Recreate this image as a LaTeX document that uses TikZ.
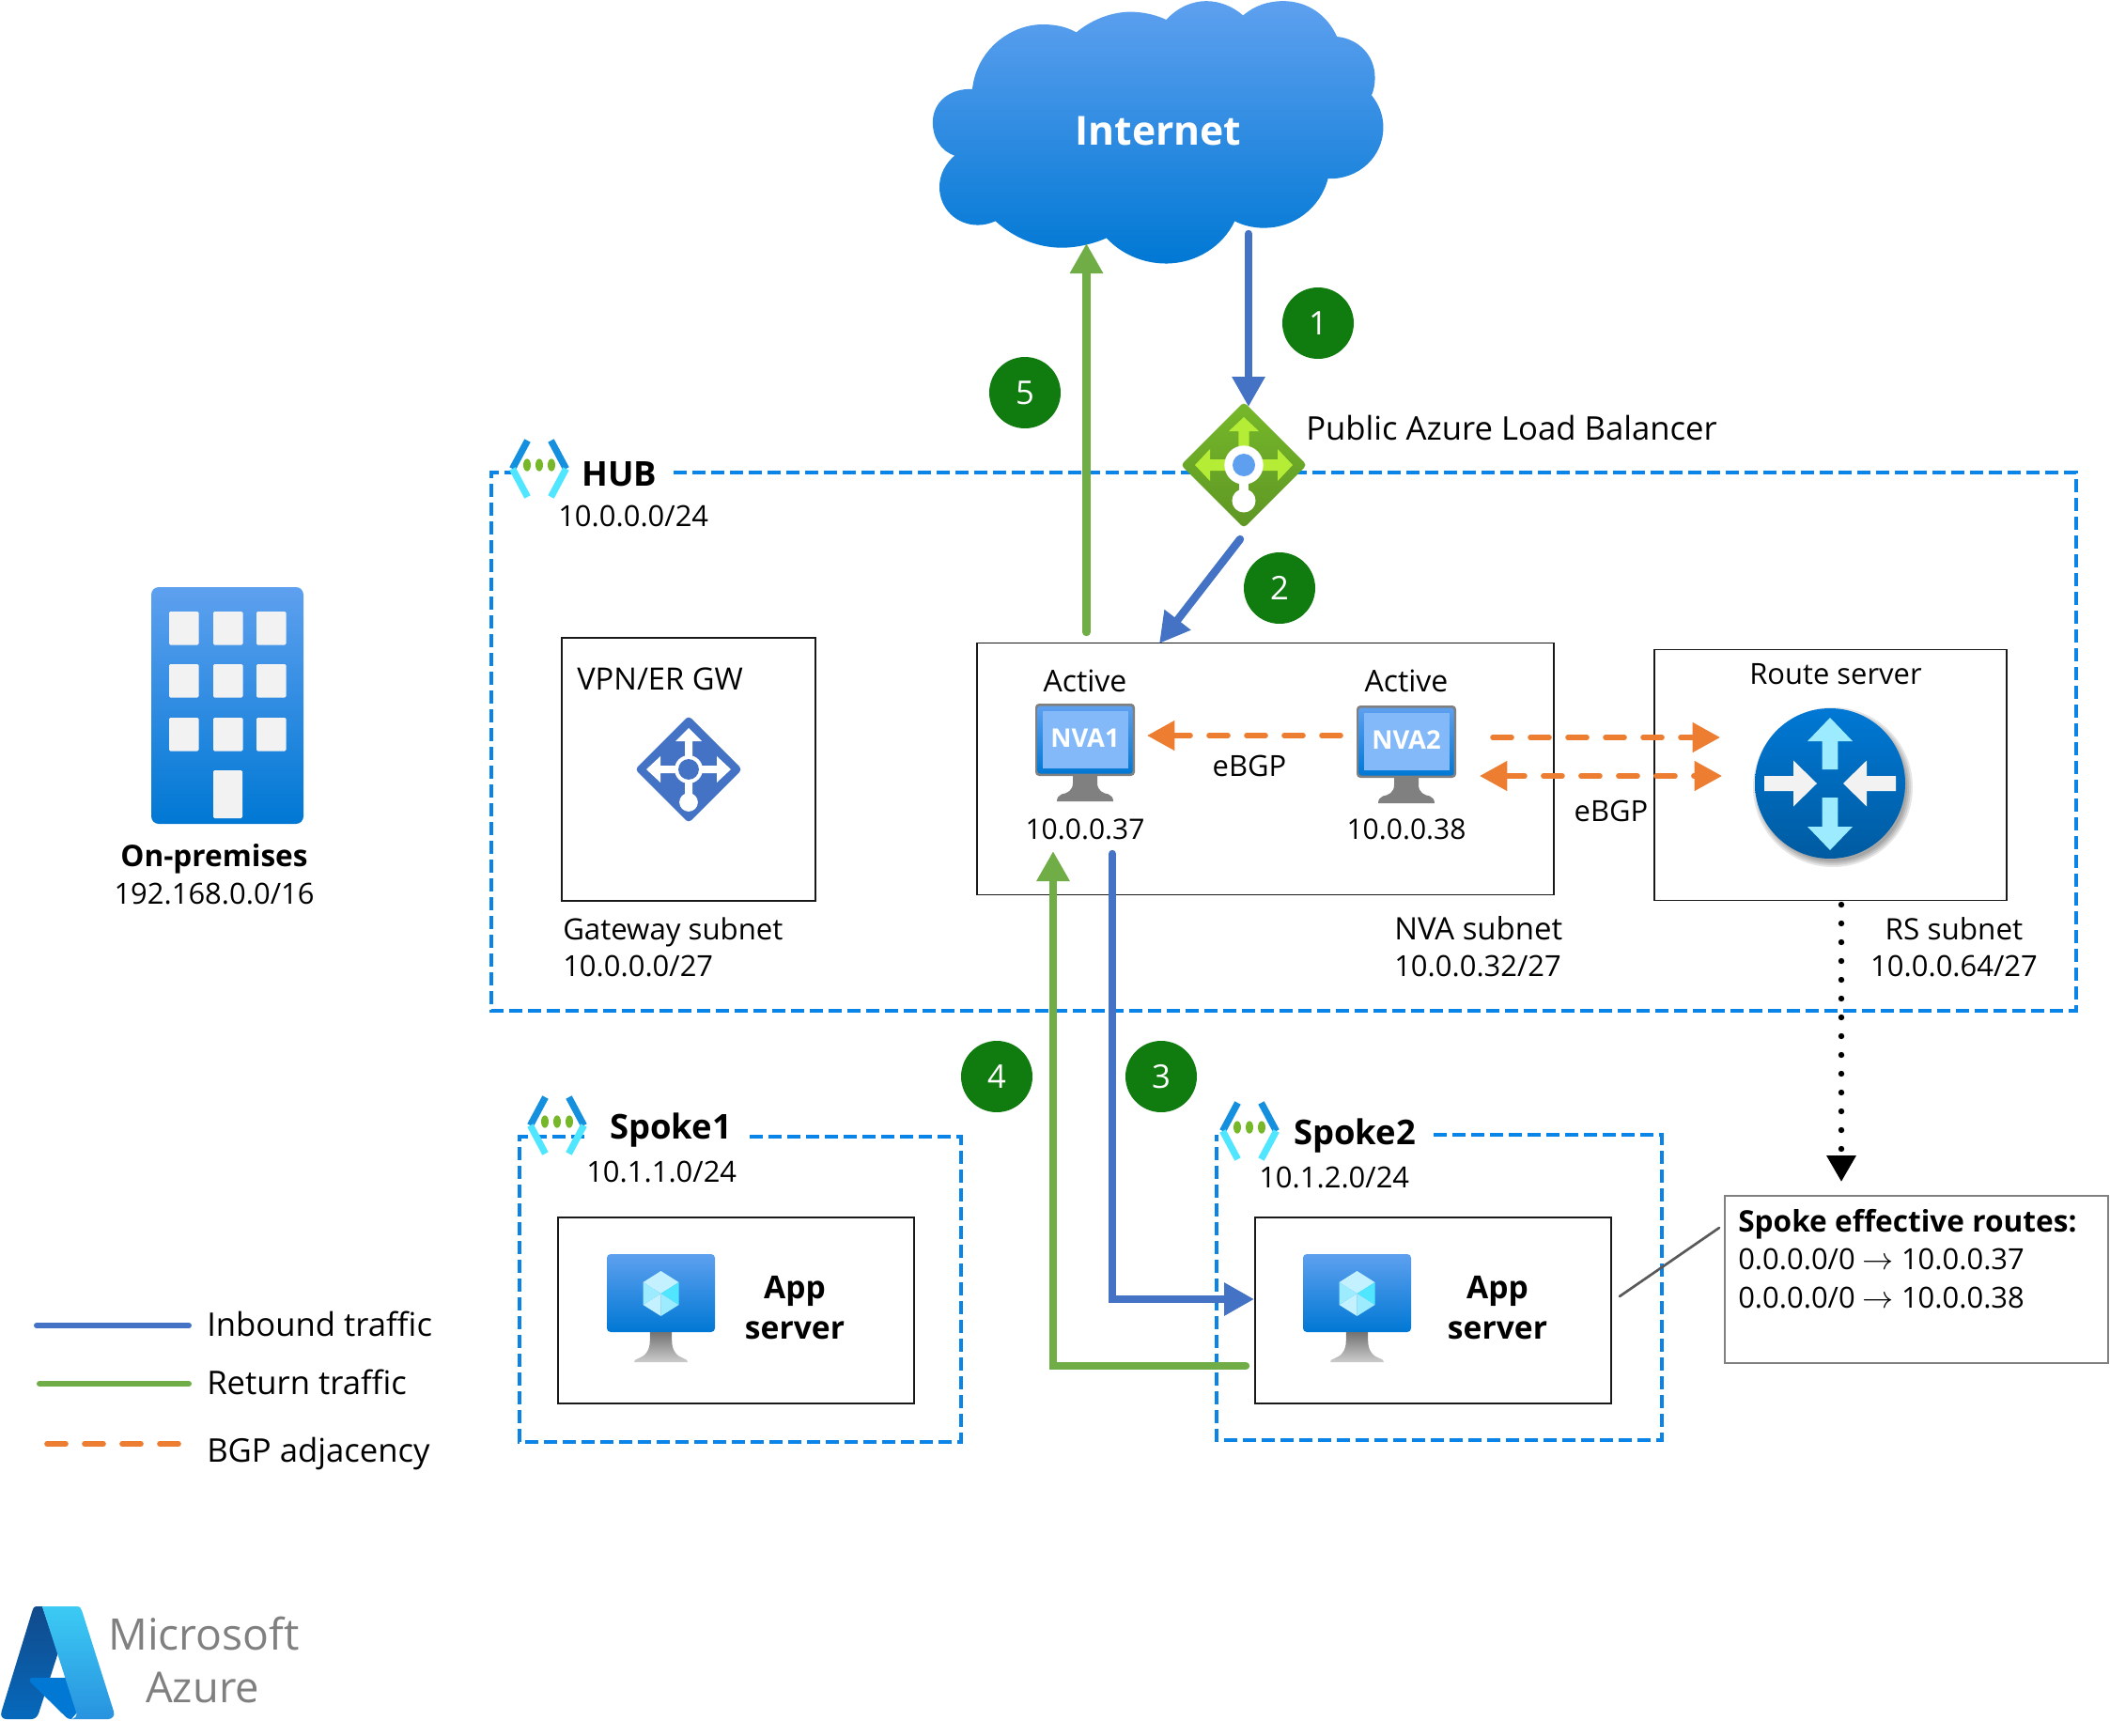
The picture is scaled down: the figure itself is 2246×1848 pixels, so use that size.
\documentclass[tikz,border=0pt]{standalone}
\usepackage{fontspec}
\setmainfont{Open Sans}
\usepackage{xcolor}
\usetikzlibrary{arrows.meta, calc, positioning}

\definecolor{inblue}{HTML}{4472C4}
\definecolor{retgreen}{HTML}{70AD47}
\definecolor{bgporange}{HTML}{ED7D31}
\definecolor{badgegreen}{HTML}{107C10}
\definecolor{vnetblue}{HTML}{0A84E6}
\definecolor{azuretop}{HTML}{5EA0EF}
\definecolor{azurelow}{HTML}{0078D4}
\definecolor{routerlow}{HTML}{005BA1}
\definecolor{cyanlight}{HTML}{9CEBFF}
\definecolor{cyanpale}{HTML}{C3F1FF}
\definecolor{cyanfull}{HTML}{50E6FF}
\definecolor{chevronblue}{HTML}{1490DF}
\definecolor{tilegrey}{HTML}{F2F2F2}
\definecolor{limearrow}{HTML}{B4EC36}
\definecolor{lbtop}{HTML}{76B82A}
\definecolor{lblow}{HTML}{5E9624}
\definecolor{screenpale}{HTML}{83B9F9}
\definecolor{logonavy}{HTML}{114A8B}
\definecolor{logolow}{HTML}{0669BC}
\definecolor{logosky}{HTML}{3CCBF4}
\definecolor{logomid}{HTML}{2892DF}

\newcommand{\bodysize}{\fontsize{23.2}{28}\selectfont}
\newcommand{\widesize}{\fontsize{26}{31}\selectfont}
\newcommand{\titlesize}{\bfseries\fontsize{27.3}{32}\selectfont}
\newcommand{\boldsize}{\bfseries\fontsize{23.7}{32}\selectfont}
\newcommand{\appsize}{\bfseries\fontsize{25.2}{32}\selectfont}

\tikzset{
    plainlabel/.style={anchor=base west, inner sep=0pt, font=\bodysize},
    midlabel/.style={anchor=base, inner sep=0pt, font=\bodysize},
    titlelabel/.style={anchor=base west, inner sep=0pt, font=\titlesize},
    subnetbox/.style={draw=black!90, line width=1.2pt, inner sep=0pt},
    badge/.style={circle, fill=badgegreen, text=white, inner sep=0pt, minimum size=57pt, font=\fontsize{26}{31}\selectfont},
    vnetline/.style={draw=vnetblue, line width=2.5pt, dash pattern=on 10.5pt off 4.5pt},
    flowtip/.style={line width=6.3pt, line cap=round, -{Triangle[length=24pt,width=25pt]}},
    inflow/.style={flowtip, draw=inblue, color=inblue},
    retflow/.style={flowtip, draw=retgreen, color=retgreen},
    bgpline/.style={draw=bgporange, color=bgporange, line width=4.2pt, line cap=round, dash pattern=on 15pt off 15pt},
    pics/vnetmark/.style={code={
        \draw[line width=5.4pt, color=chevronblue] (-12.5,-30) -- (-28.5,0);
        \draw[line width=5.4pt, color=chevronblue] (12.5,-30) -- (28.5,0);
        \draw[line width=5.4pt, color=cyanfull] (-28.5,0) -- (-12.5,30);
        \draw[line width=5.4pt, color=cyanfull] (28.5,0) -- (12.5,30);
        \foreach \dotx in {-13, 0, 13} {
            \fill[color=lbtop] (\dotx,-4) ellipse [x radius=3pt, y radius=5pt];
        }
    }},
    pics/appscreen/.style={code={
        \shade[top color=azuretop, bottom color=azurelow, rounded corners=3pt] (-57.5,-42) rectangle (57.5,41);
        \shade[top color=black!55, bottom color=black!20]
            (-11.7,41) -- (-11.7,50) .. controls (-11.7,62) and (-18,67) .. (-24,69) .. controls (-27,70) and (-28.5,71) .. (-28.5,73)
            -- (28.5,73) .. controls (28.5,71) and (27,70) .. (24,69) .. controls (18,67) and (11.7,62) .. (11.7,50) -- (11.7,41) -- cycle;
        \fill[color=cyanpale] (0,-24) -- (19,-12) -- (0,0) -- (-19,-12) -- cycle;
        \fill[color=cyanfull] (19,-12) -- (19,12) -- (0,0) -- cycle;
        \fill[color=cyanlight] (19,12) -- (0,24) -- (0,0) -- cycle;
        \fill[color=cyanpale] (-19,12) -- (0,24) -- (0,0) -- cycle;
        \fill[color=cyanlight] (-19,-12) -- (-19,12) -- (0,0) -- cycle;
    }},
    pics/nvascreen/.style={code={
        \fill[color=black!50, rounded corners=3pt] (-53,-38.5) rectangle (53,38.5);
        \shade[top color=azuretop, bottom color=azurelow, rounded corners=2pt] (-50.5,-36) rectangle (50.5,36);
        \fill[color=screenpale] (-45.5,-31) rectangle (45.5,30);
        \fill[color=black!50]
            (-13,38.5) -- (-13,46) .. controls (-13,54) and (-19,57) .. (-25,58) .. controls (-28,59) and (-30,62) .. (-30,65.5)
            -- (30,65.5) .. controls (30,62) and (28,59) .. (25,58) .. controls (19,57) and (13,54) .. (13,46) -- (13,38.5) -- cycle;
    }},
    pics/lbmark/.style={code={
        \shade[top color=lbtop, bottom color=lblow, rounded corners=3pt] (0,-67) -- (67,0) -- (0,67) -- (-67,0) -- cycle;
        \fill[color=limearrow] (0,-51) -- (16,-36) -- (5.7,-36) -- (5.7,0) -- (-5.7,0) -- (-5.7,-36) -- (-16,-36) -- cycle;
        \fill[color=limearrow] (-52,0) -- (-36,-17) -- (-36,-6) -- (0,-6) -- (0,6) -- (-36,6) -- (-36,17) -- cycle;
        \fill[color=limearrow] (52,0) -- (36,-17) -- (36,-6) -- (0,-6) -- (0,6) -- (36,6) -- (36,17) -- cycle;
        \fill[color=white] (-5,0) rectangle (5,38);
        \fill[color=white] (0,0) circle [radius=15.5pt];
        \fill[color=azuretop] (0,0) circle [radius=9pt];
        \fill[color=white] (0,38) circle [radius=9.4pt];
    }},
    pics/gwmark/.style={code={
        \fill[color=inblue, rounded corners=3pt] (0,-57) -- (57,0) -- (0,57) -- (-57,0) -- cycle;
        \fill[color=white] (0,-44) -- (14,-30) -- (4,-30) -- (4,35) -- (-4,35) -- (-4,-30) -- (-14,-30) -- cycle;
        \fill[color=white] (-45,0) -- (-30,-14) -- (-30,-4) -- (30,-4) -- (30,-14) -- (45,0) -- (30,14) -- (30,4) -- (-30,4) -- (-30,14) -- cycle;
        \fill[color=white] (0,0) circle [radius=11.2pt];
        \fill[color=inblue] (0,0) circle [radius=8.2pt];
        \fill[color=white] (0,35) circle [radius=7.4pt];
    }},
    pics/routermark/.style={code={
        \foreach \shadowr in {85, 83, 81, 79} {
            \fill[color=black, opacity=0.1] (3,4) circle [radius=\shadowr*0.75pt];
        }
        \shade[top color=azurelow, bottom color=routerlow] (0,0) circle [radius=60pt];
        \fill[color=cyanlight] (0,-70) -- (24,-45) -- (8.3,-45) -- (8.3,-15) -- (-8.3,-15) -- (-8.3,-45) -- (-24,-45) -- cycle;
        \fill[color=cyanlight] (0,71) -- (24,46) -- (8.3,46) -- (8.3,15) -- (-8.3,15) -- (-8.3,46) -- (-24,46) -- cycle;
        \fill[color=tilegrey] (-14,0) -- (-39,-24.5) -- (-39,-8) -- (-70,-8) -- (-70,8) -- (-39,8) -- (-39,24.5) -- cycle;
        \fill[color=tilegrey] (14,0) -- (39,-24.5) -- (39,-8) -- (70,-8) -- (70,8) -- (39,8) -- (39,24.5) -- cycle;
    }}
}

\begin{document}
\begin{tikzpicture}[x=0.75pt, y=-0.75pt]
    \useasboundingbox (0, 0) rectangle (2246, 1848);

    % cloud
    \begin{scope}[shift={(950, 0)}, xscale=1/2.8, yscale=1/2.613]
        \shade[top color=azuretop, bottom color=azurelow]
        (238, 248) .. controls (250, 140) and (350, 68) .. (448, 68) .. controls (495, 68) and (525, 78) .. (548, 90)
        .. controls (600, 50) and (660, 33) .. (710, 33) .. controls (750, 33) and (790, 43) .. (816, 55)
        .. controls (850, 20) and (895, 3) .. (935, 3) .. controls (975, 3) and (1015, 18) .. (1045, 43)
        .. controls (1080, 15) and (1120, 3) .. (1165, 3) .. controls (1235, 3) and (1295, 40) .. (1325, 102)
        .. controls (1390, 108) and (1438, 155) .. (1438, 215) .. controls (1438, 235) and (1435, 250) .. (1428, 265)
        .. controls (1450, 290) and (1463, 320) .. (1463, 355) .. controls (1463, 435) and (1390, 500) .. (1298, 497)
        .. controls (1275, 580) and (1195, 634) .. (1108, 634) .. controls (1075, 634) and (1045, 627) .. (1020, 615)
        .. controls (985, 685) and (905, 733) .. (815, 733) .. controls (745, 733) and (680, 705) .. (638, 662)
        .. controls (595, 680) and (545, 689) .. (505, 689) .. controls (430, 689) and (360, 660) .. (307, 615)
        .. controls (290, 622) and (272, 626) .. (255, 626) .. controls (190, 626) and (140, 580) .. (140, 520)
        .. controls (140, 485) and (158, 455) .. (185, 433) .. controls (145, 420) and (120, 385) .. (120, 340)
        .. controls (120, 285) and (170, 245) .. (238, 248) -- cycle;
    \end{scope}
    \node[anchor=base, inner sep=0pt, text=white, font=\bfseries\fontsize{32}{38}\selectfont] (internet) at (1233, 155) {Internet};

    % vnet outlines
    \draw[vnetline] (717, 503) -- (2210, 503) -- (2210, 1076) -- (523, 1076) -- (523, 503) -- (550, 503);
    \draw[vnetline] (798, 1210) -- (1023, 1210) -- (1023, 1535) -- (553, 1535) -- (553, 1210) -- (626, 1210);
    \draw[vnetline] (1526, 1208) -- (1769, 1208) -- (1769, 1533) -- (1295, 1533) -- (1295, 1208);

    % subnet boxes
    \node[subnetbox, minimum width=202.5pt, minimum height=210pt] (gwbox) at (733, 819) {};
    \node[subnetbox, minimum width=460.5pt, minimum height=201pt] (nvabox) at (1347, 818.5) {};
    \node[subnetbox, minimum width=281.25pt, minimum height=200.25pt] (rsbox) at (1948.5, 825) {};
    \node[subnetbox, minimum width=284.25pt, minimum height=148.5pt] (appbox1) at (783.5, 1395) {};
    \node[subnetbox, minimum width=284.25pt, minimum height=148.5pt] (appbox2) at (1525.5, 1395) {};
    \node[draw=black!50, line width=1.1pt, inner sep=0pt, minimum width=306pt, minimum height=133.5pt] (routesbox) at (2040, 1362) {};

    % icons
    \pic at (574, 499) {vnetmark};
    \pic at (593, 1198) {vnetmark};
    \pic at (1330, 1204) {vnetmark};
    \pic at (1324, 495) {lbmark};
    \pic at (733, 819) {gwmark};
    \pic at (1948, 834) {routermark};
    \pic at (1155, 787.5) {nvascreen};
    \pic at (1497, 789.5) {nvascreen};
    \pic at (703.5, 1377) {appscreen};
    \pic at (1444.5, 1377) {appscreen};

    % building
    \shade[top color=azuretop, bottom color=azurelow, rounded corners=6pt] (161, 625) rectangle (323, 877);
    \foreach \winx in {180, 227, 273} {
        \foreach \winy in {651, 707, 764} {
            \fill[color=tilegrey, rounded corners=1pt] (\winx, \winy) rectangle ++(31.5, 35.5);
        }
    }
    \fill[color=tilegrey, rounded corners=1pt] (227, 820) rectangle (258, 871);

    % azure logo
    \begin{scope}[shift={(0, 1650)}, scale=1/3]
        \shade[top color=logonavy, bottom color=logolow]
        (118, 180) .. controls (108, 180) and (104, 188) .. (103, 195) -- (5, 515) .. controls (0, 530) and (8, 540) .. (20, 540)
        -- (100, 540) .. controls (112, 540) and (120, 532) .. (124, 520) -- (185, 330) -- (135, 180) -- cycle;
        \fill[color=azurelow] (100, 408) -- (210, 408) -- (245, 520) -- (228, 540) .. controls (220, 540) and (215, 538) .. (210, 533)
        -- (100, 425) .. controls (92, 417) and (94, 408) .. (100, 408) -- cycle;
        \shade[top color=logosky, bottom color=logomid]
        (135, 180) -- (245, 180) .. controls (255, 180) and (260, 186) .. (262, 195) -- (363, 515) .. controls (368, 530) and (358, 540) .. (345, 540)
        -- (228, 540) .. controls (240, 538) and (246, 530) .. (244, 520) -- cycle;
    \end{scope}

    % numbered steps
    \node[badge] (stepone) at (1403, 344) {1};
    \node[badge] (steptwo) at (1362, 626) {2};
    \node[badge] (stepthree) at (1236, 1146) {3};
    \node[badge] (stepfour) at (1061, 1146) {4};
    \node[badge] (stepfive) at (1091, 418) {5};

    % flow ends
    \coordinate (cloudout) at (1329, 249);
    \coordinate (lbin) at (1329, 433);
    \coordinate (lbout) at (1320, 574);
    \coordinate (nvain) at (1234, 685);
    \coordinate (nvaout) at (1184, 909);
    \coordinate (appturn) at (1184, 1383);
    \coordinate (appin) at (1335, 1383);
    \coordinate (appout) at (1326, 1454);
    \coordinate (backturn) at (1121, 1454);
    \coordinate (nvaback) at (1121, 906);
    \coordinate (nvaup) at (1156.5, 673);
    \coordinate (cloudin) at (1156.5, 259);

    \draw[inflow] (cloudout) -- (lbin);
    \draw[inflow] (lbout) -- (nvain);
    \draw[inflow, line join=miter] (nvaout) -- (appturn) -- (appin);
    \draw[retflow, line join=miter] (appout) -- (backturn) -- (nvaback);
    \draw[retflow] (nvaup) -- (cloudin);

    % bgp sessions
    \coordinate (nvatwoleft) at (1427, 783);
    \coordinate (nvaonetip) at (1221, 783);
    \coordinate (nvatwoup) at (1589, 785);
    \coordinate (rstipup) at (1831, 785);
    \coordinate (nvatwolow) at (1575, 826);
    \coordinate (rstiplow) at (1833, 826);
    \draw[bgpline, -{Triangle[length=22pt,width=23pt]}] (nvatwoleft) -- (nvaonetip);
    \draw[bgpline, -{Triangle[length=22pt,width=23pt]}] (nvatwoup) -- (rstipup);
    \draw[bgpline, {Triangle[length=22pt,width=23pt]}-{Triangle[length=22pt,width=23pt]}] (nvatwolow) -- (rstiplow);

    % route feed
    \coordinate (rsbottom) at (1960, 963);
    \coordinate (routestip) at (1960, 1258);
    \draw[line width=4.8pt, line cap=round, dash pattern=on 0pt off 15pt, -{Triangle[length=21pt,width=22.5pt]}] (rsbottom) -- (routestip);
    \coordinate (calloutapp) at (1724, 1380);
    \coordinate (calloutroutes) at (1830, 1307);
    \draw[color=black!65, line width=2pt, line cap=round] (calloutapp) -- (calloutroutes);

    % labels
    \node[titlelabel] (hubname) at (619, 517) {HUB};
    \node[plainlabel] (hubcidr) at (594, 560) {10.0.0.0/24};
    \node[titlelabel] (spokeonename) at (649, 1212) {Spoke1};
    \node[plainlabel] (spokeonecidr) at (624, 1258) {10.1.1.0/24};
    \node[titlelabel] (spoketwoname) at (1377, 1218) {Spoke2};
    \node[plainlabel] (spoketwocidr) at (1340, 1264) {10.1.2.0/24};
    \node[plainlabel, font=\widesize] (lbname) at (1390, 468) {Public Azure Load Balancer};
    \node[plainlabel, font=\fontsize{24.5}{29}\selectfont] (gwname) at (614, 734) {VPN/ER GW};
    \node[plainlabel, font=\fontsize{23.4}{28}\selectfont] (gwsubnet) at (599, 1000) {Gateway subnet};
    \node[plainlabel] (gwcidr) at (599, 1039) {10.0.0.0/27};
    \node[midlabel, font=\fontsize{24}{29}\selectfont] (nvaoneactive) at (1155, 736) {Active};
    \node[midlabel, font=\fontsize{24}{29}\selectfont] (nvatwoactive) at (1497, 736) {Active};
    \node[midlabel, text=white, font=\bfseries\fontsize{20.5}{25}\selectfont] (nvaonename) at (1155, 795) {NVA1};
    \node[midlabel, text=white, font=\bfseries\fontsize{20.5}{25}\selectfont] (nvatwoname) at (1497, 797) {NVA2};
    \node[midlabel, font=\fontsize{22.5}{27}\selectfont] (nvaoneip) at (1155, 893) {10.0.0.37};
    \node[midlabel, font=\fontsize{22.5}{27}\selectfont] (nvatwoip) at (1497, 893) {10.0.0.38};
    \node[midlabel] (bgpinner) at (1330, 826) {eBGP};
    \node[midlabel] (bgpouter) at (1715, 874) {eBGP};
    \node[plainlabel, font=\fontsize{24.7}{30}\selectfont] (nvasubnet) at (1484, 1000) {NVA subnet};
    \node[plainlabel] (nvacidr) at (1484, 1039) {10.0.0.32/27};
    \node[midlabel] (rsname) at (1954, 728) {Route server};
    \node[midlabel, font=\fontsize{23.6}{28}\selectfont] (rssubnet) at (2080, 1000) {RS subnet};
    \node[midlabel] (rscidr) at (2080, 1039) {10.0.0.64/27};
    \node[align=center, inner sep=0pt, font=\appsize] (apponename) at (846, 1392) {App\\server};
    \node[align=center, inner sep=0pt, font=\appsize] (apptwoname) at (1594, 1392) {App\\server};
    \node[midlabel, font=\boldsize] (onpremname) at (228, 922) {On-premises};
    \node[midlabel] (onpremcidr) at (228, 962) {192.168.0.0/16};
    \node[plainlabel, font=\boldsize] (routestitle) at (1850, 1311) {Spoke effective routes:};
    \node[plainlabel] (routeone) at (1850, 1351) {0.0.0.0/0 $\rightarrow$ 10.0.0.37};
    \node[plainlabel] (routetwo) at (1850, 1392) {0.0.0.0/0 $\rightarrow$ 10.0.0.38};

    % legend
    \coordinate (inkeya) at (39, 1411);
    \coordinate (inkeyb) at (201, 1411);
    \coordinate (retkeya) at (42, 1473);
    \coordinate (retkeyb) at (201, 1473);
    \coordinate (bgpkeya) at (50, 1537);
    \coordinate (bgpkeyb) at (190, 1537);
    \draw[color=inblue, line width=4.5pt, line cap=round] (inkeya) -- (inkeyb);
    \draw[color=retgreen, line width=4.5pt, line cap=round] (retkeya) -- (retkeyb);
    \draw[bgpline] (bgpkeya) -- (bgpkeyb);
    \node[plainlabel, font=\widesize] (inkeytext) at (220, 1422) {Inbound traffic};
    \node[plainlabel, font=\widesize] (retkeytext) at (220, 1484) {Return traffic};
    \node[plainlabel, font=\widesize] (bgpkeytext) at (220, 1556) {BGP adjacency};

    % brand
    \node[anchor=base west, inner sep=0pt, text=black!50, font=\fontsize{34.7}{41}\selectfont] (brandone) at (115, 1756) {Microsoft};
    \node[anchor=base west, inner sep=0pt, text=black!50, font=\fontsize{34}{41}\selectfont] (brandtwo) at (155, 1812) {Azure};
\end{tikzpicture}
\end{document}
